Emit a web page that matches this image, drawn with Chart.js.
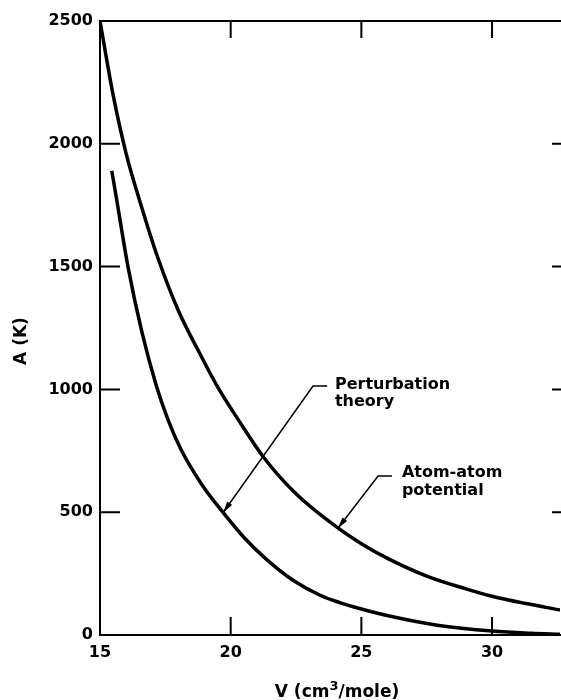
<!DOCTYPE html>
<html>
<head>
<meta charset="utf-8">
<script src="https://cdn.jsdelivr.net/npm/chart.js@4.4.0/dist/chart.umd.min.js"></script>
<style>
  html, body { margin: 0; padding: 0; background: #fff; }
  #wrap { width: 561px; height: 700px; }
</style>
</head>
<body>
<div id="wrap"><canvas id="chart"></canvas></div>
<script>
const xTicks = [15, 20, 25, 30];
const yTicks = [0, 500, 1000, 1500, 2000, 2500];

// Atom-atom potential (upper curve)
const atomV = [15.0, 15.5, 16.0, 16.6, 17.2, 18.0, 18.8, 19.5, 20.3, 21.25, 22.5, 24.1, 25.0, 26.0, 27.5, 29.0, 30.0, 31.3, 32.6];
const atomA = [2500, 2200, 1960, 1740, 1540, 1320, 1150, 1010, 875, 725, 575, 436, 372, 312, 240, 188, 158, 128, 102];

// Perturbation theory (lower curve)
const pertV = [15.45, 15.65, 16.07, 16.6, 17.15, 17.6, 18.1, 18.9, 19.7, 20.5, 21.4, 22.4, 23.4, 24.2, 25.0, 26.2, 27.9, 30.0, 31.5, 32.6];
const pertA = [1890, 1765, 1500, 1235, 1017, 877, 755, 612, 500, 398, 305, 222, 163, 131, 106, 74, 40, 16, 7, 3];

const FONT = "'DejaVu Sans', sans-serif";

// label text anchor, leader dash (x0, x1, y) and arrow tip, in data units
const notes = [
  { lines: ["Perturbation", "theory"], text: [23.99, 1002], dash: [23.15, 23.69, 1014], tip: [19.72, 500] },
  { lines: ["Atom-atom", "potential"], text: [26.55, 643], dash: [25.64, 26.17, 647], tip: [24.11, 436] },
];

const toXY = (vs, as) => vs.map((v, i) => ({ x: v, y: as[i] }));

const frame = {
  id: "frame",
  afterDraw(chart) {
    const { ctx, chartArea: a, scales: { x, y } } = chart;
    ctx.save();
    ctx.strokeStyle = "#000";
    ctx.fillStyle = "#000";

    // top frame line and inward ticks
    ctx.lineWidth = 2;
    ctx.beginPath();
    ctx.moveTo(a.left, a.top);
    ctx.lineTo(a.right + 1, a.top);
    xTicks.forEach((v) => {
      if (v === xTicks[0]) return;
      const px = x.getPixelForValue(v);
      ctx.moveTo(px, a.bottom);
      ctx.lineTo(px, a.bottom - 18);
      ctx.moveTo(px, a.top);
      ctx.lineTo(px, a.top + 17);
    });
    yTicks.forEach((v) => {
      if (v === 0 || v === 2500) return;
      const py = y.getPixelForValue(v);
      ctx.moveTo(a.left, py);
      ctx.lineTo(a.left + 20, py);
      ctx.moveTo(a.right + 1, py);
      ctx.lineTo(a.right - 8, py);
    });
    ctx.stroke();

    // annotations
    ctx.font = "bold 16px " + FONT;
    ctx.textAlign = "left";
    ctx.textBaseline = "alphabetic";
    notes.forEach((n) => {
      const tx = x.getPixelForValue(n.text[0]);
      const ty = y.getPixelForValue(n.text[1]);
      n.lines.forEach((s, i) => ctx.fillText(s, tx, ty + i * 17.5));

      const d0 = x.getPixelForValue(n.dash[0]);
      const d1 = x.getPixelForValue(n.dash[1]);
      const dy = y.getPixelForValue(n.dash[2]);
      const px = x.getPixelForValue(n.tip[0]);
      const py = y.getPixelForValue(n.tip[1]);
      ctx.lineWidth = 1.5;
      ctx.beginPath();
      ctx.moveTo(d1, dy);
      ctx.lineTo(d0, dy);
      ctx.lineTo(px, py);
      ctx.stroke();

      const ang = Math.atan2(py - dy, px - d0);
      const len = 11, half = 3;
      ctx.beginPath();
      ctx.moveTo(px, py);
      ctx.lineTo(px - len * Math.cos(ang) + half * Math.sin(ang), py - len * Math.sin(ang) - half * Math.cos(ang));
      ctx.lineTo(px - len * Math.cos(ang) - half * Math.sin(ang), py - len * Math.sin(ang) + half * Math.cos(ang));
      ctx.closePath();
      ctx.fill();
    });

    // x axis title with raised 3
    const parts = [["V (cm", 17, 0], ["3", 13, -7], ["/mole)", 17, 0]];
    let total = 0;
    parts.forEach((p) => {
      ctx.font = "bold " + p[1] + "px " + FONT;
      total += ctx.measureText(p[0]).width;
    });
    let cx = 337 - total / 2;
    parts.forEach((p) => {
      ctx.font = "bold " + p[1] + "px " + FONT;
      ctx.fillText(p[0], cx, 697 + p[2]);
      cx += ctx.measureText(p[0]).width;
    });

    // y axis title
    ctx.font = "bold 17px " + FONT;
    ctx.translate(22, 341);
    ctx.rotate(-Math.PI / 2);
    ctx.textAlign = "center";
    ctx.textBaseline = "middle";
    ctx.fillText("A (K)", 0, 0);
    ctx.restore();
  },
};

const lineStyle = {
  borderColor: "#000",
  borderWidth: 3.5,
  pointRadius: 0,
  fill: false,
  cubicInterpolationMode: "monotone",
};

const tickFont = { family: FONT, size: 16, weight: "bold" };

new Chart(document.getElementById("chart"), {
  type: "line",
  data: {
    datasets: [
      { label: "Atom-atom potential", data: toXY(atomV, atomA), ...lineStyle },
      { label: "Perturbation theory", data: toXY(pertV, pertA), ...lineStyle },
    ],
  },
  options: {
    responsive: true,
    maintainAspectRatio: false,
    animation: false,
    layout: { padding: { top: 21, right: 1, left: 0, bottom: 0 } },
    plugins: { legend: { display: false }, tooltip: { enabled: false } },
    scales: {
      x: {
        type: "linear",
        min: 15,
        max: 32.6,
        afterBuildTicks: (s) => { s.ticks = xTicks.map((v) => ({ value: v })); },
        afterFit: (s) => { s.height = 65; },
        grid: { display: false, drawTicks: false },
        border: { display: true, color: "#000", width: 2 },
        ticks: { color: "#000", padding: 8, maxRotation: 0, font: tickFont, callback: (v) => String(v) },
      },
      y: {
        type: "linear",
        min: 0,
        max: 2500,
        afterBuildTicks: (s) => { s.ticks = yTicks.map((v) => ({ value: v })); },
        afterFit: (s) => { s.width = 100; },
        grid: { display: false, drawTicks: false },
        border: { display: true, color: "#000", width: 2 },
        ticks: { color: "#000", padding: 7, font: tickFont, callback: (v) => String(v) },
      },
    },
  },
  plugins: [frame],
});
</script>
</body>
</html>
